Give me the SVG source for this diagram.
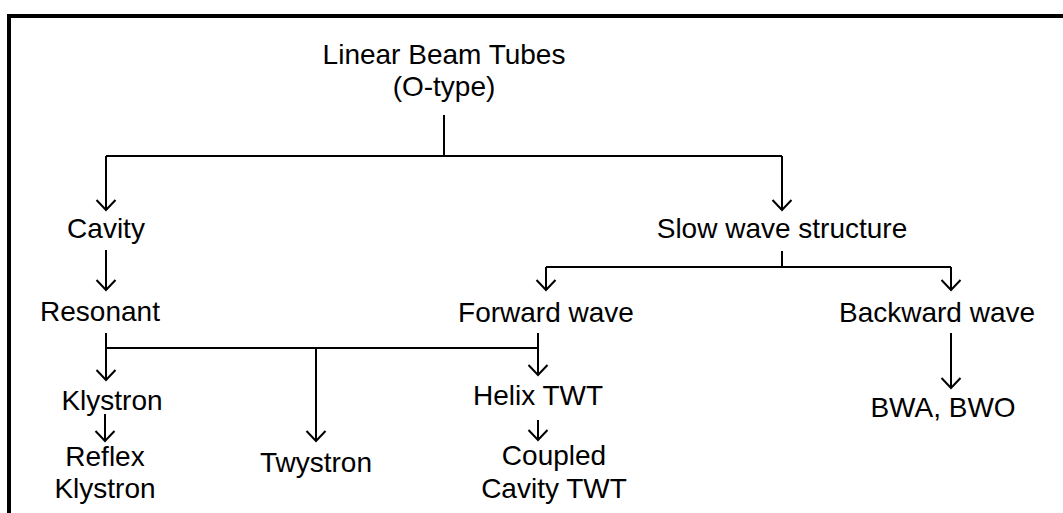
<svg xmlns="http://www.w3.org/2000/svg" width="1063" height="513" viewBox="0 0 1063 513">
<style>
text{font-family:"Liberation Sans",Arial,sans-serif;font-size:28px;fill:#000;text-anchor:middle}
.c{fill:none;stroke:#000;stroke-width:2}
.a{marker-end:url(#arr)}
</style>
<defs>
<marker id="arr" markerUnits="userSpaceOnUse" markerWidth="24" markerHeight="24" viewBox="-12 -12 24 24" refX="0" refY="0" orient="auto" overflow="visible">
<path d="M-10,-9.5 L0,0 L-10,9.5" fill="none" stroke="#000" stroke-width="2"/>
</marker>
</defs>
<rect width="1063" height="513" fill="#fff"/>
<path d="M9,513 V16 H1063" fill="none" stroke="#000" stroke-width="4"/>
<g id="connectors">
<path class="c" d="M444,115 V156 M106,156 H782"/>
<path class="c a" d="M106,156 V210"/>
<path class="c a" d="M782,156 V210"/>
<path class="c a" d="M106,250 V290"/>
<path class="c" d="M782,251 V267 M546,267 H951"/>
<path class="c a" d="M546,267 V290"/>
<path class="c a" d="M951,267 V290"/>
<path class="c a" d="M106,333 V380"/>
<path class="c" d="M106,348 H538"/>
<path class="c a" d="M316,348 V441"/>
<path class="c a" d="M538,333 V375"/>
<path class="c a" d="M951,333 V388"/>
<path class="c a" d="M105,414 V441"/>
<path class="c a" d="M538,420 V440"/>
</g>
<g id="root"><text x="444" y="64">Linear Beam Tubes</text><text x="444" y="96">(O-type)</text></g>
<g id="cavity"><text x="106" y="238">Cavity</text></g>
<g id="slow-wave"><text x="782" y="238">Slow wave structure</text></g>
<g id="resonant"><text x="100" y="321">Resonant</text></g>
<g id="forward-wave"><text x="546" y="322">Forward wave</text></g>
<g id="backward-wave"><text x="937" y="322">Backward wave</text></g>
<g id="klystron"><text x="112" y="410">Klystron</text></g>
<g id="twystron"><text x="316" y="472">Twystron</text></g>
<g id="helix-twt"><text x="538" y="405">Helix TWT</text></g>
<g id="bwa-bwo"><text x="943" y="417">BWA, BWO</text></g>
<g id="reflex-klystron"><text x="105" y="466">Reflex</text><text x="105" y="498">Klystron</text></g>
<g id="coupled-cavity-twt"><text x="554" y="465">Coupled</text><text x="554" y="498">Cavity TWT</text></g>
</svg>
